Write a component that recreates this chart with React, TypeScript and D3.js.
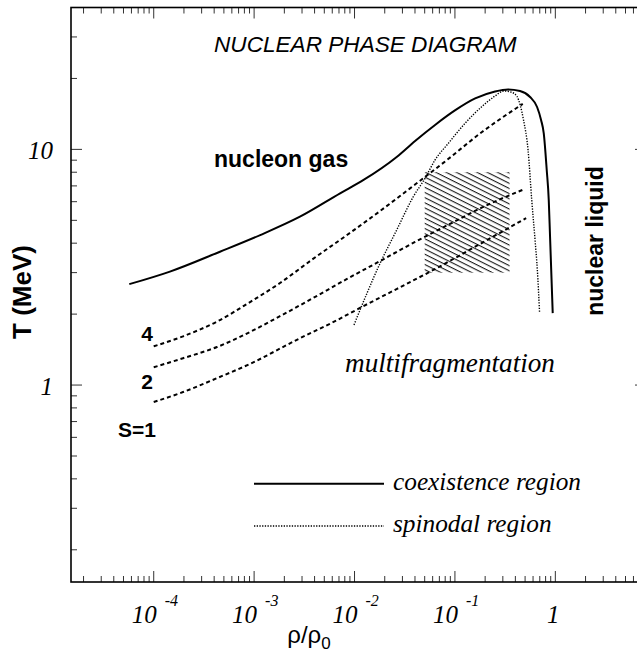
import React from 'react';
import * as d3 from 'd3';

// ---------- data ----------
const coexRho = [5.71e-5, 1.45e-4, 4.57e-4, 1.15e-3, 2.86e-3, 7.18e-3, 0.0123, 0.0263, 0.0401, 0.0634, 0.1, 0.159, 0.251, 0.338, 0.445, 0.56, 0.658, 0.721, 0.767, 0.821, 0.86, 0.886, 0.942];
const coexT = [2.68, 3.03, 3.68, 4.33, 5.18, 6.51, 7.42, 9.29, 10.86, 12.7, 14.63, 16.45, 17.61, 17.96, 17.7, 16.69, 15.13, 13.33, 11.7, 8.18, 6.1, 4.26, 2.02];

const spinRho = [0.00988, 0.018, 0.0263, 0.0385, 0.0504, 0.0634, 0.086, 0.126, 0.185, 0.251, 0.308, 0.371, 0.415, 0.482, 0.535, 0.582, 0.628, 0.662, 0.697];
const spinT = [1.8, 3.29, 4.55, 6.3, 7.54, 9.02, 10.61, 12.9, 15.18, 16.85, 17.7, 17.44, 16.77, 13.33, 9.94, 6.1, 4.13, 3.08, 2.02];

const s4Rho = [1.0e-4, 1.96e-4, 4.27e-4, 9.1e-4, 1.81e-3, 3.86e-3, 8.41e-3, 0.018, 0.0383, 0.0834, 0.186, 0.474];
const s4T = [1.46, 1.61, 1.86, 2.25, 2.71, 3.43, 4.33, 5.48, 6.99, 9.02, 11.85, 15.6];

const s2Rho = [1.0e-4, 1.96e-4, 4.27e-4, 9.1e-4, 1.81e-3, 3.86e-3, 8.41e-3, 0.018, 0.0401, 0.0893, 0.1995, 0.497];
const s2T = [1.19, 1.3, 1.45, 1.68, 1.96, 2.34, 2.82, 3.36, 4.05, 4.83, 5.75, 6.79];

const s1Rho = [1.0e-4, 1.96e-4, 4.27e-4, 9.1e-4, 2.86e-3, 5.7e-3, 0.0122, 0.0265, 0.0664, 0.178, 0.512];
const s1T = [0.847, 0.934, 1.07, 1.23, 1.58, 1.82, 2.16, 2.56, 3.14, 3.97, 5.11];

const hatchRho = [0.05, 0.35];
const hatchT = [3, 8];

const xTickValues = [1e-4, 1e-3, 1e-2, 1e-1, 1];
const xTickBase = ['10', '10', '10', '10', '1'];
const xTickExp = ['-4', '-3', '-2', '-1', ''];
const yTickValues = [10, 1];
const yTickLabels = ['10', '1'];

// ---------- layout ----------
const W = 637;
const H = 656;
const L = 71, R = 646, T0 = 7.5, B = 582;

const SANS = '"Liberation Sans", Arial, Helvetica, sans-serif';
const SERIF = '"Liberation Serif", "Times New Roman", Times, serif';

export default function App() {
  const x = d3.scaleLog().domain([1.5e-5, 8]).range([L, R]);
  const y = d3.scaleLog().domain([0.146, 40]).range([B, T0]);

  const line = d3
    .line<[number, number]>()
    .x((d) => x(d[0]))
    .y((d) => y(d[1]))
    .curve(d3.curveMonotoneX);

  const zip = (a: number[], b: number[]) => a.map((v, i) => [v, b[i]] as [number, number]);

  const isMajor = (v: number) => Math.abs(Math.log10(v) - Math.round(Math.log10(v))) < 1e-6;
  const xt = x.ticks().filter((v) => x(v) > L + 0.5 && x(v) < R - 0.5);
  const yt = y.ticks().filter((v) => y(v) < B - 0.5 && y(v) > T0 + 0.5);

  const hx0 = x(hatchRho[0]);
  const hx1 = x(hatchRho[1]);
  const hy0 = y(hatchT[1]);
  const hy1 = y(hatchT[0]);

  const tickStroke = '#333';
  const dotted = '1.3,1.4';

  return (
    <svg
      width={W}
      height={H}
      style={{ position: 'absolute', left: 0, top: 0, background: '#fff' }}
      xmlns="http://www.w3.org/2000/svg"
    >
      <defs>
        <pattern
          id="hatch"
          patternUnits="userSpaceOnUse"
          width={10}
          height={4.6}
          patternTransform="rotate(26.57)"
        >
          <line x1={0} y1={0.6} x2={10} y2={0.6} stroke="#000" strokeWidth={1} />
        </pattern>
      </defs>
      <rect x={0} y={0} width={W} height={H} fill="#fff" />

      {/* hatched region */}
      <rect x={hx0} y={hy0} width={hx1 - hx0} height={hy1 - hy0} fill="url(#hatch)" />

      {/* ticks */}
      {xt.map((v, i) => {
        const len = isMajor(v) ? 11 : 6;
        return (
          <g key={'xt' + i}>
            <line x1={x(v)} x2={x(v)} y1={B} y2={B - len} stroke={tickStroke} strokeWidth={1} />
            <line x1={x(v)} x2={x(v)} y1={T0} y2={T0 + len} stroke={tickStroke} strokeWidth={1} />
          </g>
        );
      })}
      {yt.map((v, i) => {
        const len = isMajor(v) ? 11 : 6;
        return (
          <g key={'yt' + i}>
            <line x1={L} x2={L + len} y1={y(v)} y2={y(v)} stroke={tickStroke} strokeWidth={1} />
            <line x1={R} x2={R - len} y1={y(v)} y2={y(v)} stroke={tickStroke} strokeWidth={1} />
          </g>
        );
      })}

      {/* frame */}
      <rect x={L} y={T0} width={R - L} height={B - T0} fill="none" stroke="#000" strokeWidth={1.6} />

      {/* x tick labels */}
      {xTickValues.map((v, i) =>
        xTickExp[i] ? (
          <g key={'xl' + i} fontFamily={SERIF} fontStyle="italic">
            <text x={x(v) + 3} y={622.5} fontSize={25} textAnchor="end">
              {xTickBase[i]}
            </text>
            <text x={x(v) + 11} y={606} fontSize={16}>
              {xTickExp[i]}
            </text>
          </g>
        ) : (
          <text key={'xl' + i} x={x(v) - 2} y={622.5} fontSize={25} fontFamily={SERIF} fontStyle="italic" textAnchor="middle">
            {xTickBase[i]}
          </text>
        )
      )}

      {/* y tick labels */}
      {yTickValues.map((v, i) => (
        <text key={'yl' + i} x={53} y={y(v) + 9.5} fontSize={25} fontFamily={SERIF} fontStyle="italic" textAnchor="end">
          {yTickLabels[i]}
        </text>
      ))}

      {/* axis titles */}
      <text x={309} y={643} fontSize={24} fontFamily={SANS} textAnchor="middle">
        ρ/ρ<tspan fontSize={17} dy={6}>0</tspan>
      </text>
      <text
        x={31}
        y={292}
        fontSize={26}
        fontWeight="bold"
        fontFamily={SANS}
        textAnchor="middle"
        transform="rotate(-90, 31, 292)"
      >
        T (MeV)
      </text>

      {/* curves */}
      <path d={line(zip(coexRho, coexT)) || ''} fill="none" stroke="#000" strokeWidth={2} />
      <path d={line(zip(spinRho, spinT)) || ''} fill="none" stroke="#000" strokeWidth={1.4} strokeDasharray={dotted} />
      <path d={line(zip(s4Rho, s4T)) || ''} fill="none" stroke="#000" strokeWidth={2} strokeDasharray="4,3" />
      <path d={line(zip(s2Rho, s2T)) || ''} fill="none" stroke="#000" strokeWidth={2} strokeDasharray="4,3" />
      <path d={line(zip(s1Rho, s1T)) || ''} fill="none" stroke="#000" strokeWidth={2} strokeDasharray="4,3" />

      {/* texts */}
      <text x={214} y={52} fontSize={22.6} fontStyle="italic" fontFamily={SANS}>
        NUCLEAR PHASE DIAGRAM
      </text>
      <text x={214} y={166.5} fontSize={23} fontWeight="bold" fontFamily={SANS}>
        nucleon gas
      </text>
      <text
        x={603}
        y={241}
        fontSize={23}
        fontWeight="bold"
        fontFamily={SANS}
        textAnchor="middle"
        transform="rotate(-90, 603, 241)"
      >
        nuclear liquid
      </text>
      <text x={345} y={371.5} fontSize={27.2} fontStyle="italic" fontFamily={SERIF}>
        multifragmentation
      </text>

      {/* isentrope labels */}
      <g fontFamily={SANS} fontWeight="bold" fontSize={21} textAnchor="end">
        <text x={153} y={341}>4</text>
        <text x={153} y={389}>2</text>
        <text x={156} y={437}>S=1</text>
      </g>

      {/* legend */}
      <line x1={254} x2={384} y1={483.7} y2={483.7} stroke="#000" strokeWidth={2} />
      <text x={393} y={490} fontSize={25.3} fontStyle="italic" fontFamily={SERIF}>
        coexistence region
      </text>
      <line x1={254} x2={384} y1={526} y2={526} stroke="#000" strokeWidth={1.4} strokeDasharray={dotted} />
      <text x={393} y={532} fontSize={25.3} fontStyle="italic" fontFamily={SERIF}>
        spinodal region
      </text>
    </svg>
  );
}
